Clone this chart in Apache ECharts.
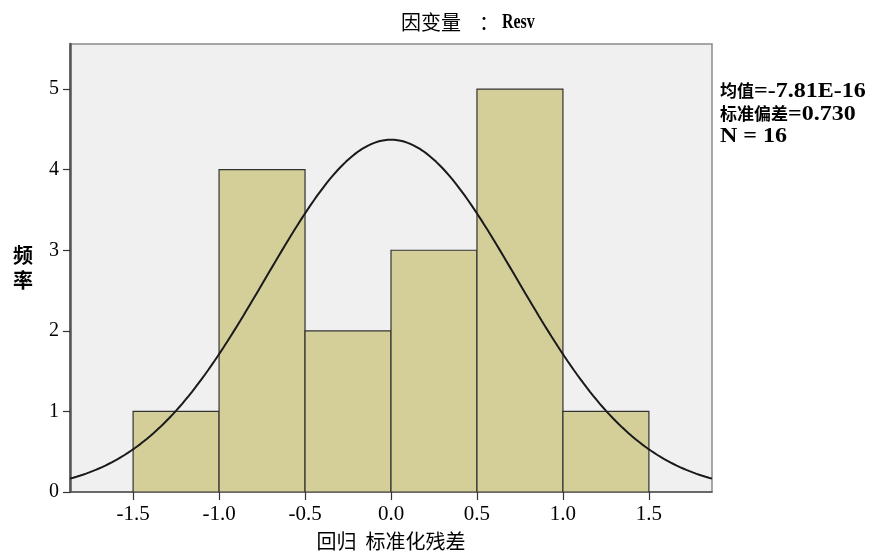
<!DOCTYPE html>
<html>
<head>
<meta charset="utf-8">
<script src="https://cdn.jsdelivr.net/npm/echarts@6/dist/echarts.min.js"></script>
<style>
  html, body { margin: 0; padding: 0; background: #ffffff; }
  #chart { width: 873px; height: 553px; }
</style>
</head>
<body>
<div id="chart"></div>
<script>
// Histogram of standardized regression residuals with a fitted normal curve
const binStarts = [-1.5, -1.0, -0.5, 0.0, 0.5, 1.0];
const binEnds   = [-1.0, -0.5, 0.0, 0.5, 1.0, 1.5];
const counts    = [1, 4, 2, 3, 5, 1];
const xTickValues = [-1.5, -1.0, -0.5, 0.0, 0.5, 1.0, 1.5];
const yTickValues = [0, 1, 2, 3, 4, 5];

// Summary statistics printed beside the plot
const meanValue = -7.81e-16;
const meanLabel = '-7.81E-16';
const sdValue = 0.730;
const nValue = 16;

const titleCjk = '因变量';
const titleSep = '：';
const titleVar = 'Resv';
const xName = '回归  标准化残差';
const yName = '频\n率';
const statLines = [
  ['均值', '=' + meanLabel],
  ['标准偏差', '=' + sdValue.toFixed(3)],
  ['', 'N = ' + nValue]
];

const xMin = -1.867, xMax = 1.867;
const yMax = 5.56;

// Normal density scaled to counts: N * binWidth * pdf(x)
const binWidth = binEnds[0] - binStarts[0];
const curve = [];
for (let i = 0; i <= 200; i++) {
  const x = xMin + (xMax - xMin) * i / 200;
  const z = (x - meanValue) / sdValue;
  const y = nValue * binWidth * Math.exp(-0.5 * z * z) / (sdValue * Math.sqrt(2 * Math.PI));
  curve.push([x, y]);
}

const bars = counts.map((c, i) => [binStarts[i], binEnds[i], c]);

const serif = '"Liberation Serif", "Times New Roman", "Noto Sans CJK SC", serif';
const cjk = '"Noto Sans CJK SC", sans-serif';

// Mixed CJK / Latin text pieces, laid out side by side on a shared middle line
function textPiece(x, y, text, font, scaleX) {
  return {
    type: 'text', x: x, y: y, scaleX: scaleX || 1,
    style: { text: text, font: font, fill: '#000', verticalAlign: 'middle', align: 'left' }
  };
}

const graphics = [];
// title
graphics.push(textPiece(401, 22, titleCjk, 'normal 20px ' + cjk));
graphics.push(textPiece(479, 22, titleSep, 'normal 20px ' + cjk));
graphics.push(textPiece(502, 23, titleVar, 'bold 21px ' + serif, 0.76));
// statistics block
const cjkSize = 17, rowY0 = 91, rowGap = 22.5;
statLines.forEach(function (row, i) {
  const y = rowY0 + i * rowGap;
  if (row[0]) graphics.push(textPiece(720, y, row[0], 'bold ' + cjkSize + 'px ' + cjk));
  graphics.push(textPiece(720 + row[0].length * cjkSize, y + 1, row[1], 'bold 20px ' + serif, 1.2));
});

const chart = echarts.init(document.getElementById('chart'), null, { renderer: 'canvas' });
chart.setOption({
  animation: false,
  backgroundColor: '#ffffff',
  grid: {
    left: 70, right: 161, top: 44, bottom: 61,
    outerBoundsMode: 'none',
    containLabel: false,
    show: true, backgroundColor: '#f0f0f0', borderColor: '#8a8a8a', borderWidth: 1.5
  },
  xAxis: {
    type: 'value',
    min: xMin, max: xMax,
    name: xName,
    nameLocation: 'middle',
    nameGap: 39,
    nameTextStyle: { fontFamily: cjk, fontSize: 20, color: '#000' },
    axisLine: { show: true, onZero: false, lineStyle: { color: '#555', width: 1.5 } },
    axisTick: { show: true, length: 8, customValues: xTickValues, lineStyle: { color: '#333', width: 1.2 } },
    axisLabel: {
      customValues: xTickValues,
      formatter: v => v.toFixed(1),
      fontFamily: serif, fontSize: 21, color: '#000', margin: 12
    },
    splitLine: { show: false }
  },
  yAxis: {
    type: 'value',
    min: 0, max: yMax,
    name: yName,
    nameLocation: 'middle',
    nameRotate: 0,
    nameGap: 37,
    nameTextStyle: { fontFamily: cjk, fontSize: 20, fontWeight: 'bold', color: '#000', lineHeight: 25 },
    axisLine: { show: true, onZero: false, lineStyle: { color: '#555', width: 2.5 } },
    axisTick: { show: true, length: 7, customValues: yTickValues, lineStyle: { color: '#333', width: 1.2 } },
    axisLabel: {
      customValues: yTickValues,
      fontFamily: serif, fontSize: 20, color: '#000', margin: 11
    },
    splitLine: { show: false }
  },
  graphic: graphics,
  series: [
    {
      type: 'custom',
      data: bars,
      clip: true,
      renderItem: function (params, api) {
        const p0 = api.coord([api.value(0), 0]);
        const p1 = api.coord([api.value(1), api.value(2)]);
        return {
          type: 'rect',
          shape: { x: p0[0], y: p1[1], width: p1[0] - p0[0], height: p0[1] - p1[1] },
          style: { fill: '#d4cf98', stroke: '#333', lineWidth: 1.2 }
        };
      },
      z: 2
    },
    {
      type: 'line',
      data: curve,
      showSymbol: false,
      smooth: false,
      clip: true,
      lineStyle: { color: '#1a1a1a', width: 2 },
      z: 3
    }
  ]
});
</script>
</body>
</html>
